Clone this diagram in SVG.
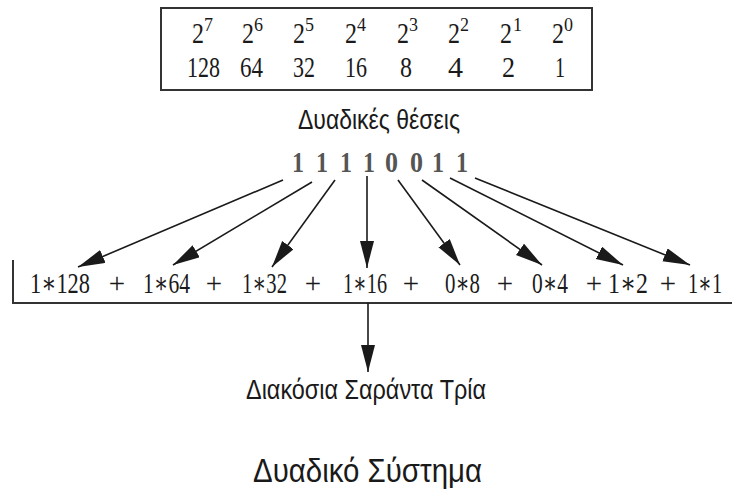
<svg xmlns="http://www.w3.org/2000/svg" width="733" height="495" viewBox="0 0 733 495">
<defs>
<style>
.s{font-family:"Liberation Serif","DejaVu Serif",serif;fill:#1a1a1a}
.n{font-size:29px}
.sup{font-size:18px}
.b{font-size:30px;font-weight:bold;fill:#555}
.sans{font-family:"Liberation Sans","DejaVu Sans",sans-serif;fill:#1a1a1a}
.ln{stroke:#1a1a1a;stroke-width:1.6;fill:none}
.fr{stroke:#333;stroke-width:2;fill:none}
</style>
<marker id="ah" markerUnits="userSpaceOnUse" markerWidth="28" markerHeight="16" refX="27" refY="7" orient="auto">
<path d="M0,0 L27,7 L0,14 Z" fill="#1a1a1a"/>
</marker>
</defs>
<rect width="733" height="495" fill="#fff"/>
<g id="positions">
<rect class="fr" x="161" y="8" width="431" height="82"/>
<g class="s n">
<text x="192" y="43"><tspan textLength="12" lengthAdjust="spacingAndGlyphs">2</tspan><tspan class="sup" x="204" y="31">7</tspan></text>
<text x="242" y="43"><tspan textLength="12" lengthAdjust="spacingAndGlyphs">2</tspan><tspan class="sup" x="254" y="31">6</tspan></text>
<text x="293" y="43"><tspan textLength="12" lengthAdjust="spacingAndGlyphs">2</tspan><tspan class="sup" x="305" y="31">5</tspan></text>
<text x="345" y="43"><tspan textLength="12" lengthAdjust="spacingAndGlyphs">2</tspan><tspan class="sup" x="357" y="31">4</tspan></text>
<text x="397" y="43"><tspan textLength="12" lengthAdjust="spacingAndGlyphs">2</tspan><tspan class="sup" x="409" y="31">3</tspan></text>
<text x="448" y="43"><tspan textLength="12" lengthAdjust="spacingAndGlyphs">2</tspan><tspan class="sup" x="460" y="31">2</tspan></text>
<text x="500" y="43"><tspan textLength="12" lengthAdjust="spacingAndGlyphs">2</tspan><tspan class="sup" x="513" y="31">1</tspan></text>
<text x="552" y="43"><tspan textLength="12" lengthAdjust="spacingAndGlyphs">2</tspan><tspan class="sup" x="564" y="31">0</tspan></text>
</g>
<g class="s n">
<text x="187" y="77" textLength="33" lengthAdjust="spacingAndGlyphs">128</text>
<text x="240" y="77" textLength="23" lengthAdjust="spacingAndGlyphs">64</text>
<text x="293" y="77" textLength="22" lengthAdjust="spacingAndGlyphs">32</text>
<text x="345" y="77" textLength="22" lengthAdjust="spacingAndGlyphs">16</text>
<text x="400" y="77" textLength="12" lengthAdjust="spacingAndGlyphs">8</text>
<text x="448" y="77" textLength="15" lengthAdjust="spacingAndGlyphs">4</text>
<text x="502" y="77" textLength="13" lengthAdjust="spacingAndGlyphs">2</text>
<text x="555" y="77" textLength="10" lengthAdjust="spacingAndGlyphs">1</text>
</g>
</g>
<g id="title-positions">
<text class="sans" x="298" y="129" font-size="27" textLength="162" lengthAdjust="spacingAndGlyphs">Δυαδικές θέσεις</text>
</g>
<g id="binary">
<g class="s b">
<text x="292" y="172" textLength="12" lengthAdjust="spacingAndGlyphs">1</text>
<text x="316" y="172" textLength="12" lengthAdjust="spacingAndGlyphs">1</text>
<text x="340" y="172" textLength="12" lengthAdjust="spacingAndGlyphs">1</text>
<text x="363" y="172" textLength="12" lengthAdjust="spacingAndGlyphs">1</text>
<text x="385" y="172" textLength="13" lengthAdjust="spacingAndGlyphs">0</text>
<text x="410" y="172" textLength="13" lengthAdjust="spacingAndGlyphs">0</text>
<text x="432" y="172" textLength="12" lengthAdjust="spacingAndGlyphs">1</text>
<text x="456" y="172" textLength="12" lengthAdjust="spacingAndGlyphs">1</text>
</g>
</g>
<g id="sum">
<g class="s n">
<text x="30" y="293" textLength="60" lengthAdjust="spacingAndGlyphs">1∗128</text>
<text x="143" y="293" textLength="47" lengthAdjust="spacingAndGlyphs">1∗64</text>
<text x="242" y="293" textLength="45" lengthAdjust="spacingAndGlyphs">1∗32</text>
<text x="343" y="293" textLength="44" lengthAdjust="spacingAndGlyphs">1∗16</text>
<text x="445" y="293" textLength="35" lengthAdjust="spacingAndGlyphs">0∗8</text>
<text x="532" y="293" textLength="36" lengthAdjust="spacingAndGlyphs">0∗4</text>
<text x="608" y="293" textLength="40" lengthAdjust="spacingAndGlyphs">1∗2</text>
<text x="688" y="293" textLength="34" lengthAdjust="spacingAndGlyphs">1∗1</text>
</g>
<g class="s n" text-anchor="middle">
<text x="117" y="293">+</text>
<text x="214" y="293">+</text>
<text x="313" y="293">+</text>
<text x="411" y="293">+</text>
<text x="505" y="293">+</text>
<text x="594" y="293">+</text>
<text x="668" y="293">+</text>
</g>
<path class="fr" d="M13,260 V303 H732"/>
</g>
<g id="connectors">
<g class="ln" marker-end="url(#ah)">
<line x1="283" y1="180" x2="78" y2="267"/>
<line x1="312" y1="182" x2="173" y2="265"/>
<line x1="335" y1="180" x2="272" y2="267"/>
<line x1="367" y1="176" x2="367" y2="268"/>
<line x1="398" y1="180" x2="460" y2="265"/>
<line x1="422" y1="180" x2="542" y2="265"/>
<line x1="450" y1="178" x2="623" y2="265"/>
<line x1="475" y1="178" x2="690" y2="265"/>
<line x1="368" y1="303" x2="368" y2="372"/>
</g>
</g>
<g id="result">
<text class="sans" x="246" y="399" font-size="27" textLength="240" lengthAdjust="spacingAndGlyphs">Διακόσια Σαράντα Τρία</text>
</g>
<g id="caption">
<text class="sans" x="253" y="482" font-size="33" textLength="229" lengthAdjust="spacingAndGlyphs">Δυαδικό Σύστημα</text>
</g>
</svg>
